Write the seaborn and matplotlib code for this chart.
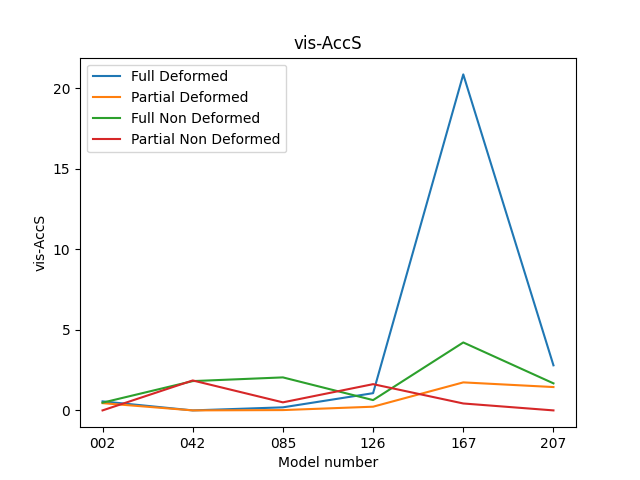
import matplotlib
matplotlib.use('Agg')
import matplotlib.pyplot as plt
import seaborn as sns

models = ['002', '042', '085', '126', '167', '207']
full_deformed = [0.56, 0.0, 0.19, 1.07, 20.87, 2.8]
partial_deformed = [0.45, 0.0, 0.02, 0.23, 1.74, 1.45]
full_non_deformed = [0.48, 1.82, 2.05, 0.64, 4.22, 1.68]
partial_non_deformed = [0.0, 1.86, 0.5, 1.63, 0.43, 0.0]

series = {
    'Full Deformed': full_deformed,
    'Partial Deformed': partial_deformed,
    'Full Non Deformed': full_non_deformed,
    'Partial Non Deformed': partial_non_deformed,
}

fig, ax = plt.subplots(figsize=(6.4, 4.8), dpi=100)
colors = sns.color_palette('tab10')
for i, (name, vals) in enumerate(series.items()):
    sns.lineplot(x=models, y=vals, ax=ax, label=name, color=colors[i])

ax.set_title('vis-AccS')
ax.set_xlabel('Model number')
ax.set_ylabel('vis-AccS')
ax.legend(loc='upper left')

plt.savefig('out.png', dpi=100)
plt.close()
